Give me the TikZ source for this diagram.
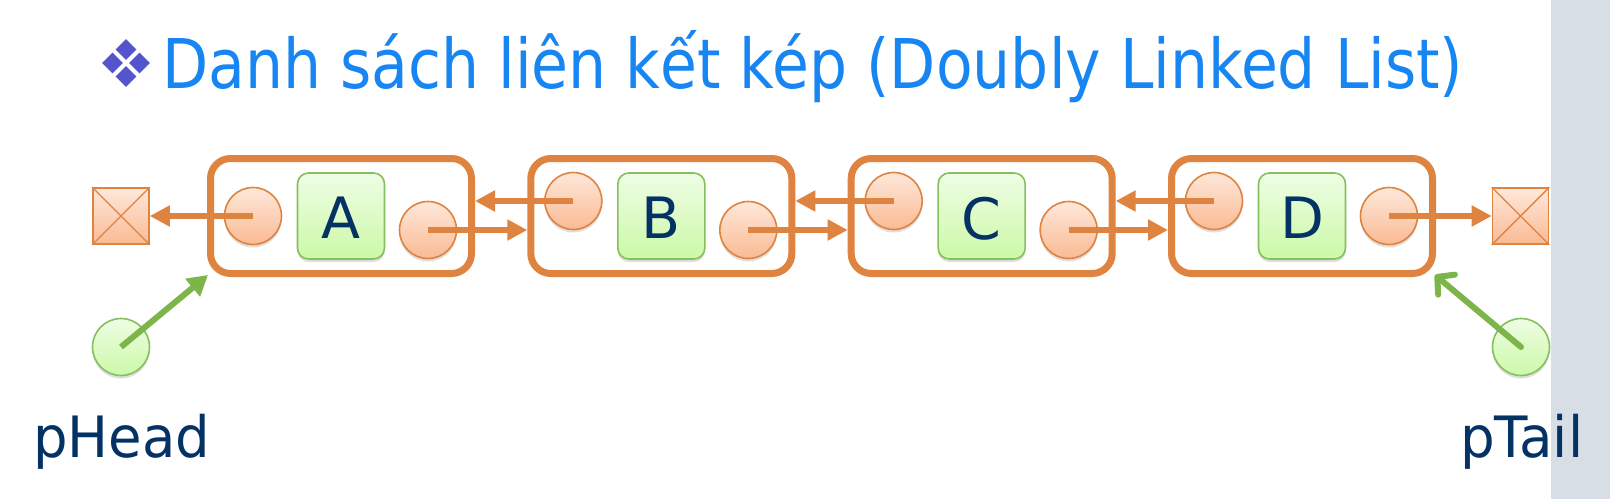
\documentclass[tikz,border=0pt]{standalone}
\usepackage{fontspec}
\usepackage{graphicx}
\setmainfont{DejaVu Sans}
\usetikzlibrary{arrows.meta,shadows,calc,shapes.geometric}
\definecolor{orng}{RGB}{222,131,64}
\definecolor{peachT}{RGB}{254,232,218}
\definecolor{peachB}{RGB}{250,186,148}
\definecolor{grnT}{RGB}{238,253,228}
\definecolor{grnB}{RGB}{204,249,168}
\definecolor{grnD}{RGB}{134,192,94}
\definecolor{grnA}{RGB}{124,181,74}
\definecolor{navy}{RGB}{4,50,100}
\definecolor{ttl}{RGB}{24,134,242}
\definecolor{dia}{RGB}{84,84,204}
\definecolor{strip}{RGB}{215,222,229}
\tikzset{
  nodebox/.style={rectangle, rounded corners=20pt, draw=orng, line width=7pt,
    minimum width=261pt, minimum height=115pt, inner sep=0pt},
  ptr/.style={circle, draw=orng, line width=1.6pt, top color=peachT, bottom color=peachB,
    minimum size=57pt, inner sep=0pt,
    drop shadow={shadow xshift=0pt, shadow yshift=-3pt, opacity=0.25}},
  valbox/.style={rectangle, rounded corners=11pt, draw=grnD, line width=1.6pt,
    top color=grnT, bottom color=grnB, minimum width=87pt, minimum height=86pt, inner sep=0pt,
    drop shadow={shadow xshift=0pt, shadow yshift=-3pt, opacity=0.25}},
  lbl/.style={text=navy, font=\fontsize{57}{60}\selectfont, inner sep=0pt, text depth=0pt},
  nullbox/.style={rectangle, draw=orng, line width=1.6pt, top color=peachT, bottom color=peachB,
    minimum size=56pt, inner sep=0pt},
  headc/.style={circle, draw=grnD, line width=1.6pt, top color=grnT, bottom color=grnB,
    minimum size=57pt, inner sep=0pt,
    drop shadow={shadow xshift=0pt, shadow yshift=-3pt, opacity=0.25}},
  oarrow/.style={draw=orng, line width=6.5pt, -{Triangle[length=20pt,width=20pt]}},
  garrow/.style={draw=grnA, line width=6pt, -{Triangle[length=20pt,width=22pt]}},
  garrowb/.style={draw=grnA, line width=6pt, line cap=round, -{Straight Barb[length=12pt,width=26pt,round,line width=6pt]}},
  diam/.style={diamond, fill=dia, minimum size=21pt, inner sep=0pt},
}
\begin{document}
\begin{tikzpicture}[x=1pt,y=-1pt]
\useasboundingbox (0,0) rectangle (1610,499);
\fill[white] (0,0) rectangle (1551,499);
\fill[strip] (1551,0) rectangle (1610,499);
% title bullet
\node[diam] (d1) at (126,49.5) {};
\node[diam] (d2) at (112.5,63) {};
\node[diam] (d3) at (139.5,63) {};
\node[diam] (d4) at (126,76.5) {};
\node[anchor=base west, inner sep=0pt, text=ttl, font=\fontsize{68.6}{70}\selectfont] (title) at (162,88) {\resizebox{1301pt}{\height}{Danh sách liên kết kép (Doubly Linked List)}};
% boxes
\foreach \n/\x/\ly/\ry/\t in {a/341/216/230/A, b/661.33/201/230/B, c/981.67/201/230/C, d/1302/201/216/D}{
  \node[nodebox] (\n) at (\x,216) {};
  \node[ptr] (\n l) at (\x-88,\ly) {};
  \node[ptr] (\n r) at (\x+87,\ry) {};
  \node[valbox] (\n v) at (\x,216) {};
  \node[lbl] (\n t) at (\x,218) {\t};
}
% null boxes
\node[nullbox] (nl) at (121,216) {};
\draw[orng, line width=1.4pt] (nl.north west) -- (nl.south east) (nl.north east) -- (nl.south west);
\node[nullbox] (nr) at (1520.5,216) {};
\draw[orng, line width=1.4pt] (nr.north west) -- (nr.south east) (nr.north east) -- (nr.south west);
% arrows
\draw[oarrow] (al.center) -- (al.center -| nl.east);
\draw[oarrow] (ar.center) -- (ar.center -| b.west);
\draw[oarrow] (bl.center) -- (bl.center -| a.east);
\draw[oarrow] (br.center) -- (br.center -| c.west);
\draw[oarrow] (cl.center) -- (cl.center -| b.east);
\draw[oarrow] (cr.center) -- (cr.center -| d.west);
\draw[oarrow] (dl.center) -- (dl.center -| c.east);
\draw[oarrow] (dr.center) -- (dr.center -| nr.west);
% head / tail
\node[headc] (ph) at (121,347) {};
\node[headc] (pt) at (1521,347) {};
\coordinate (phtip) at (208,275);
\coordinate (pttip) at (1435,275);
\draw[garrow] (ph.center) -- (phtip);
\draw[garrowb] (pt.center) -- (pttip);
\node[lbl, anchor=base west] (phl) at (33,457) {\resizebox{177pt}{\height}{pHead}};
\node[lbl, anchor=base west] (ptl) at (1460,457) {\resizebox{123pt}{\height}{pTail}};
\end{tikzpicture}
\end{document}
